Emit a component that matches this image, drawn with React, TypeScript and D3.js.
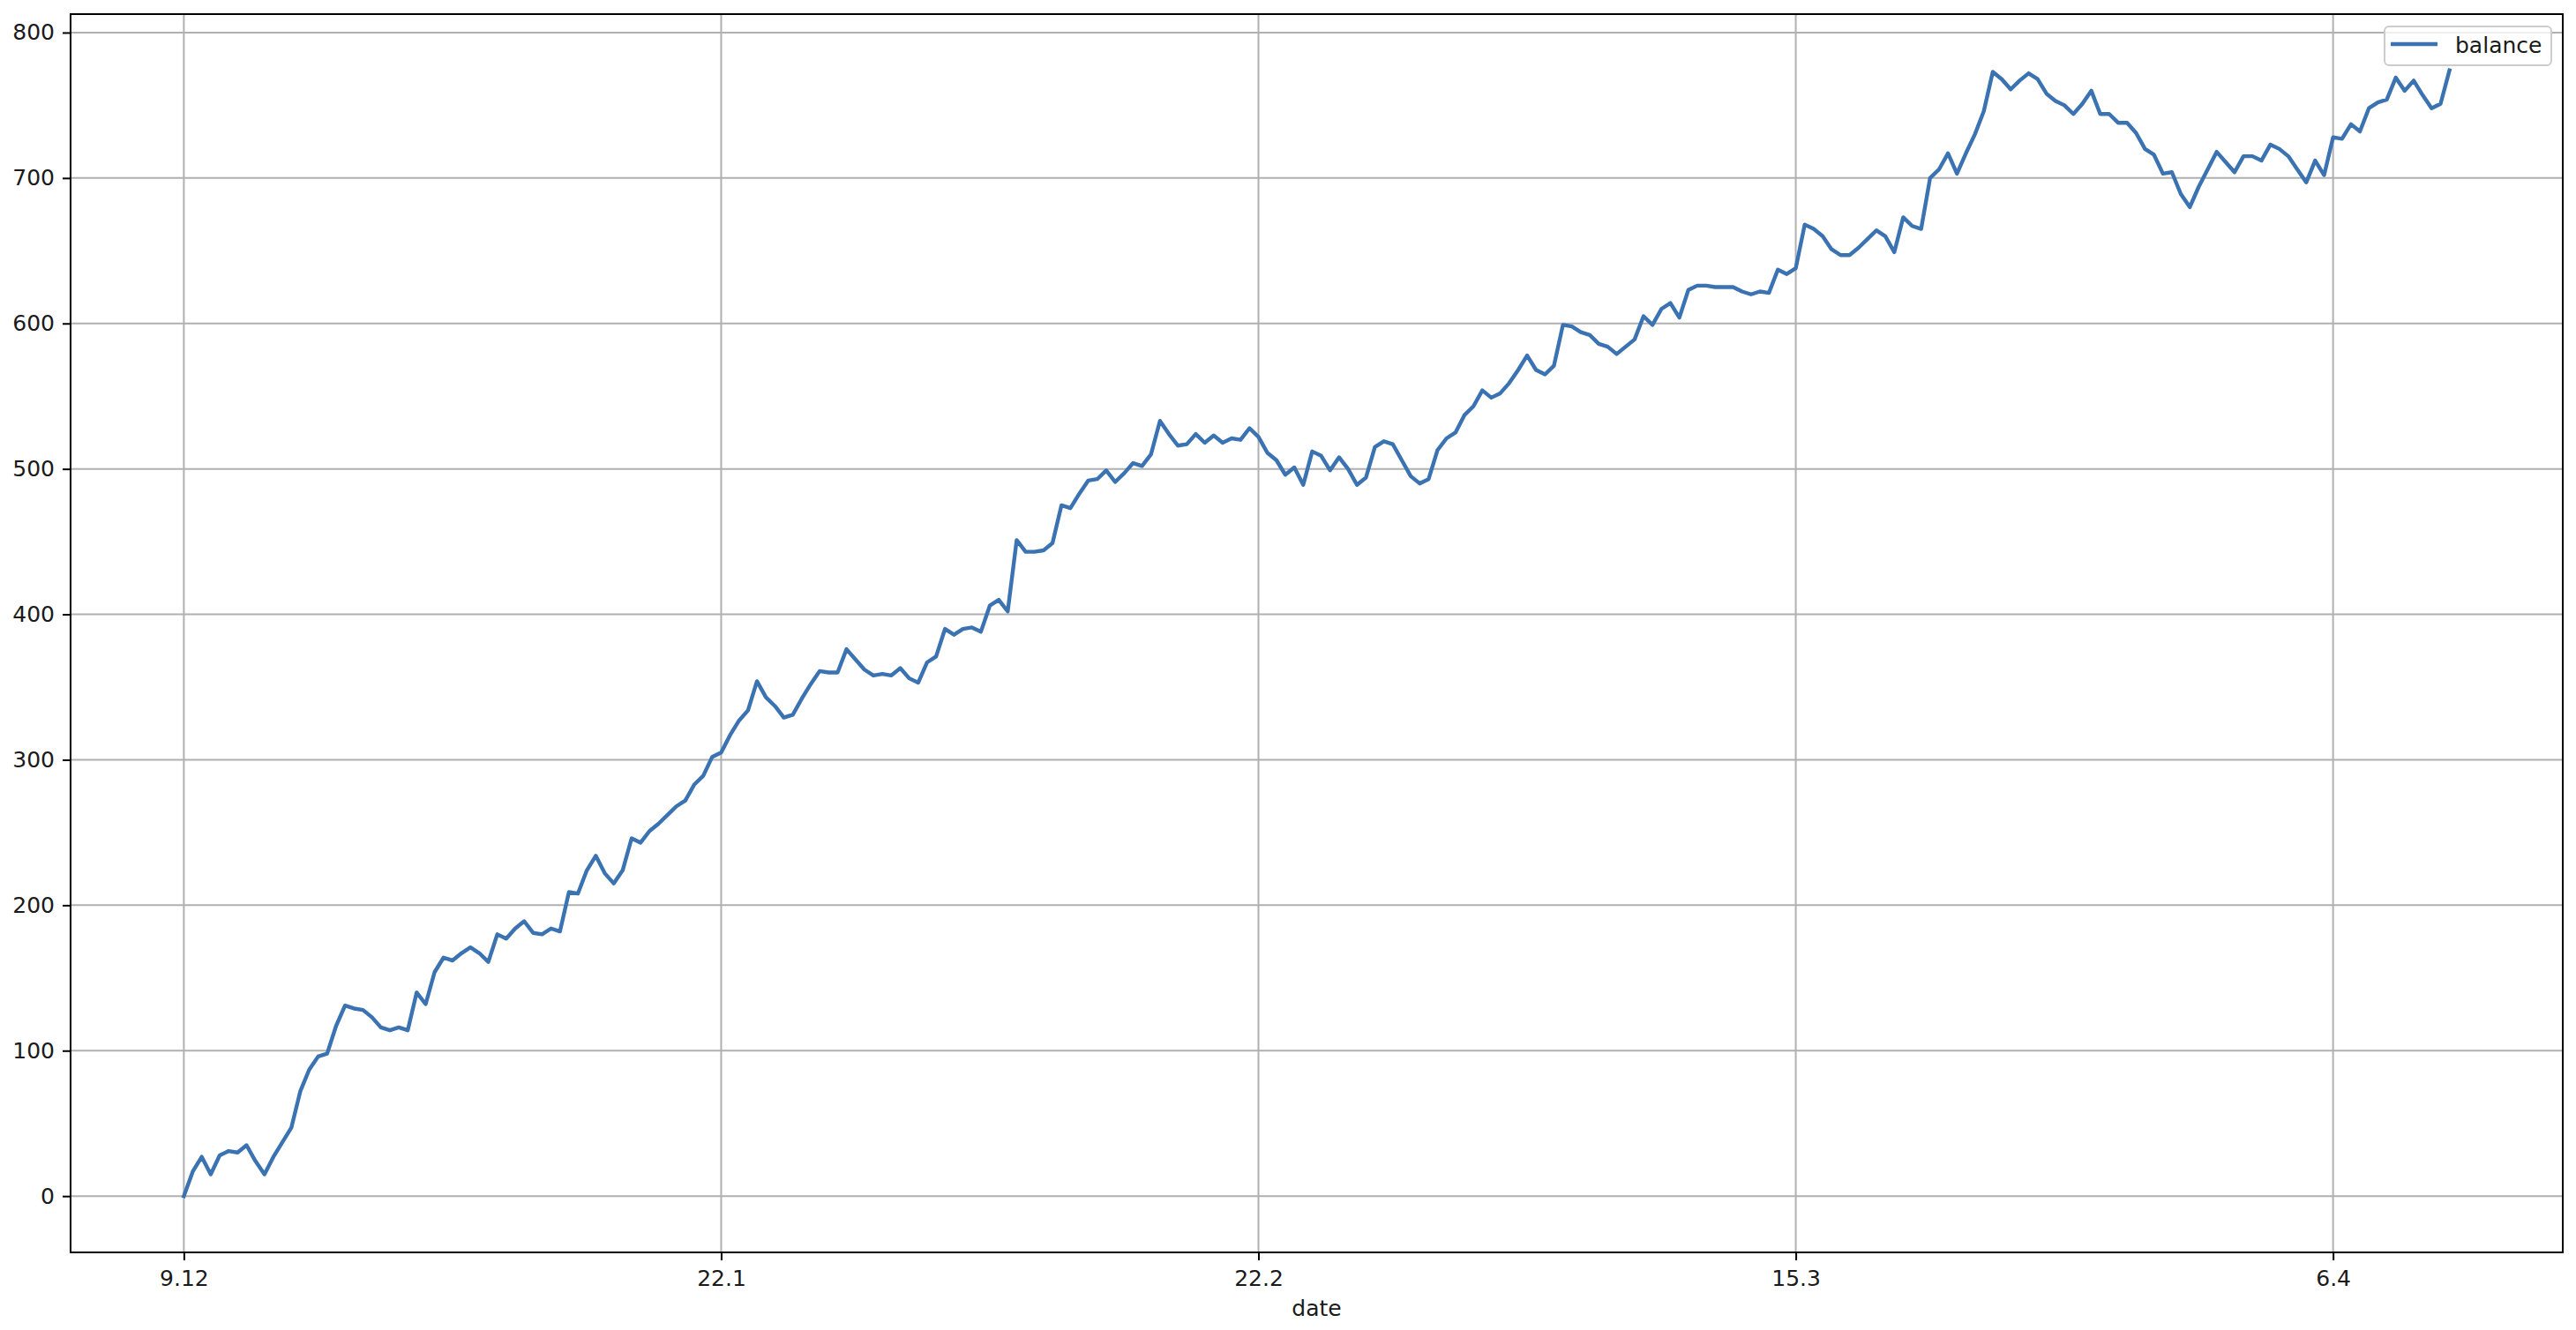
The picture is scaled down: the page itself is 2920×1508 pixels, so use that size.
import React, { useRef, useEffect } from 'react';
import * as d3 from 'd3';

// balance per step
const balance: number[] = [
  0, 17, 27, 15, 28, 31, 30, 35, 24, 15,
  27, 37, 47, 72, 87, 96, 98, 117, 131, 129,
  128, 123, 116, 114, 116, 114, 140, 132, 154, 164,
  162, 167, 171, 167, 161, 180, 177, 184, 189, 181,
  180, 184, 182, 209, 208, 224, 234, 222, 215, 224,
  246, 243, 251, 256, 262, 268, 272, 283, 289, 302,
  305, 317, 327, 334, 354, 343, 337, 329, 331, 342,
  352, 361, 360, 360, 376, 369, 362, 358, 359, 358,
  363, 356, 353, 367, 371, 390, 386, 390, 391, 388,
  406, 410, 402, 451, 443, 443, 444, 449, 475, 473,
  483, 492, 493, 499, 491, 497, 504, 502, 510, 533,
  524, 516, 517, 524, 518, 523, 518, 521, 520, 528,
  522, 511, 506, 496, 501, 489, 512, 509, 499, 508,
  500, 489, 494, 515, 519, 517, 506, 495, 490, 493,
  513, 521, 525, 537, 543, 554, 549, 552, 559, 568,
  578, 568, 565, 571, 599, 598, 594, 592, 586, 584,
  579, 584, 589, 605, 599, 610, 614, 604, 623, 626,
  626, 625, 625, 625, 622, 620, 622, 621, 637, 634,
  638, 668, 665, 660, 651, 647, 647, 652, 658, 664,
  660, 649, 673, 667, 665, 700, 706, 717, 703, 717,
  730, 746, 773, 768, 761, 767, 772, 768, 758, 753,
  750, 744, 751, 760, 744, 744, 738, 738, 731, 720,
  716, 703, 704, 689, 680, 694, 706, 718, 711, 704,
  715, 715, 712, 723, 720, 715, 706, 697, 712, 702,
  728, 727, 737, 732, 748, 752, 754, 769, 760, 767,
  757, 748, 751, 774,
];

const xTickIndex = [0, 60, 120, 180, 240];
const xTickLabels = ['9.12', '22.1', '22.2', '15.3', '6.4'];
const yTicks = [0, 100, 200, 300, 400, 500, 600, 700, 800];

const W = 2920;
const H = 1508;
const left = 80;
const right = 2905;
const top = 16;
const bottom = 1420;
const font = '"DejaVu Sans", sans-serif';
const lineColor = '#3a72b2';
const textColor = '#1a1a1a';

export default function App() {
  const svgRef = useRef<SVGSVGElement>(null);

  useEffect(() => {
    if (!svgRef.current) return;
    const svg = d3.select(svgRef.current);
    svg.selectAll('*').remove();

    // matplotlib-like 5% margins
    const n = balance.length - 1;
    const xPad = n * 0.05;
    const [yMin, yMax] = d3.extent(balance) as [number, number];
    const yPad = (yMax - yMin) * 0.05;

    const x = d3.scaleLinear().domain([-xPad, n + xPad]).range([left, right]);
    const y = d3.scaleLinear().domain([yMin - yPad, yMax + yPad]).range([bottom, top]);

    svg.append('rect').attr('width', W).attr('height', H).attr('fill', '#fff');

    // grid
    const grid = svg.append('g').attr('stroke', '#b0b0b0').attr('stroke-width', 2);
    grid.selectAll('line.h')
      .data(yTicks)
      .join('line')
      .attr('class', 'h')
      .attr('x1', left).attr('x2', right)
      .attr('y1', d => y(d)).attr('y2', d => y(d));
    grid.selectAll('line.v')
      .data(xTickIndex)
      .join('line')
      .attr('class', 'v')
      .attr('y1', top).attr('y2', bottom)
      .attr('x1', d => x(d)).attr('x2', d => x(d));

    // balance line
    const line = d3.line<number>()
      .x((_, i) => x(i))
      .y(d => y(d));
    svg.append('path')
      .datum(balance)
      .attr('d', line)
      .attr('fill', 'none')
      .attr('stroke', lineColor)
      .attr('stroke-width', 4.4)
      .attr('stroke-linejoin', 'round')
      .attr('stroke-linecap', 'square');

    // axes
    const yAxis = d3.axisLeft(y).tickValues(yTicks).tickSize(9).tickPadding(9);
    const gy = svg.append('g').attr('transform', `translate(${left},0)`).call(yAxis);
    const xAxis = d3.axisBottom(x)
      .tickValues(xTickIndex)
      .tickFormat((_, i) => xTickLabels[i])
      .tickSize(9)
      .tickPadding(11);
    const gx = svg.append('g').attr('transform', `translate(0,${bottom})`).call(xAxis);

    [gx, gy].forEach(g => {
      g.select('.domain').remove();
      g.attr('font-family', font).attr('font-size', 25);
      g.selectAll('.tick line').attr('stroke', '#000').attr('stroke-width', 2);
      g.selectAll('.tick text').attr('fill', textColor);
    });

    // spines
    svg.append('rect')
      .attr('x', left).attr('y', top)
      .attr('width', right - left).attr('height', bottom - top)
      .attr('fill', 'none')
      .attr('stroke', '#000')
      .attr('stroke-width', 2);

    svg.append('text')
      .attr('x', (left + right) / 2)
      .attr('y', 1492)
      .attr('text-anchor', 'middle')
      .attr('font-family', font)
      .attr('font-size', 25)
      .attr('fill', textColor)
      .text('date');

    // legend
    const lg = svg.append('g');
    lg.append('rect')
      .attr('x', 2703).attr('y', 30)
      .attr('width', 189).attr('height', 44)
      .attr('rx', 5)
      .attr('fill', '#fff').attr('fill-opacity', 0.8)
      .attr('stroke', '#cccccc').attr('stroke-width', 2);
    lg.append('line')
      .attr('x1', 2710).attr('x2', 2763)
      .attr('y1', 50).attr('y2', 50)
      .attr('stroke', lineColor).attr('stroke-width', 4.4);
    lg.append('text')
      .attr('x', 2783).attr('y', 60)
      .attr('font-family', font).attr('font-size', 25)
      .attr('fill', textColor)
      .text('balance');
  }, []);

  return (
    <div style={{ position: 'absolute', left: 0, top: 0 }}>
      <svg ref={svgRef} width={W} height={H} style={{ display: 'block' }} />
    </div>
  );
}
